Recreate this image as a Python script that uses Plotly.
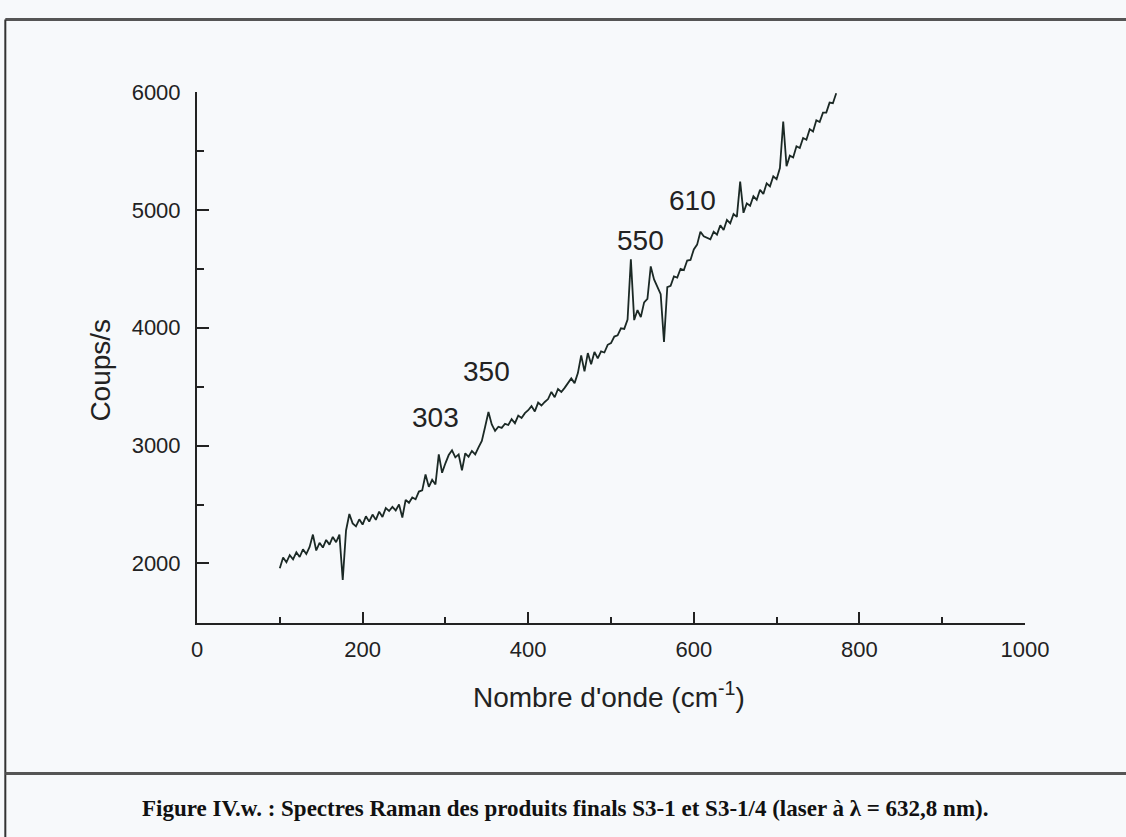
import plotly.graph_objects as go

# Raman spectrum: wavenumber grid (cm-1) and measured counts per second
wavenumber = list(range(100, 776, 4))
counts = [
    1960, 2050, 2010, 2070, 2035, 2095, 2055, 2120, 2080, 2140,   # 100-136
    2245, 2110, 2175, 2135, 2200, 2160, 2225, 2180, 2245, 1860,   # 140-176
    2280, 2420, 2340, 2315, 2375, 2330, 2400, 2355, 2415, 2370,   # 180-216
    2440, 2395, 2470, 2445, 2480, 2450, 2500, 2390, 2540, 2515,   # 220-256
    2560, 2545, 2610, 2620, 2755, 2650, 2710, 2670, 2925, 2770,   # 260-296
    2850, 2920, 2960, 2900, 2925, 2790, 2935, 2905, 2955, 2925,   # 300-336
    2985, 3040, 3160, 3285, 3180, 3125, 3160, 3150, 3185, 3175,   # 340-376
    3225, 3190, 3255, 3235, 3275, 3300, 3335, 3290, 3365, 3340,   # 380-416
    3370, 3395, 3455, 3410, 3480, 3455, 3490, 3525, 3570, 3530,   # 420-456
    3615, 3765, 3630, 3785, 3690, 3795, 3740, 3800, 3790, 3855,   # 460-496
    3870, 3925, 3935, 3995, 3990, 4070, 4580, 4065, 4150, 4090,   # 500-536
    4215, 4245, 4520, 4410, 4340, 4285, 3880, 4345, 4355, 4435,   # 540-576
    4425, 4500, 4490, 4570, 4575, 4665, 4705, 4815, 4775, 4765,   # 580-616
    4750, 4815, 4790, 4870, 4830, 4915, 4885, 4965, 4940, 5240,   # 620-656
    4975, 5055, 5035, 5115, 5085, 5170, 5135, 5225, 5200, 5285,   # 660-696
    5260, 5355, 5750, 5370, 5460, 5445, 5540, 5525, 5610, 5595,   # 700-736
    5685, 5665, 5760, 5745, 5825, 5825, 5910, 5905, 5990,         # 740-772
]

# Peak labels (wavenumber text) and where they sit
peak_labels = ["303", "350", "550", "610"]
peak_label_x = [288, 350, 536, 598]
peak_label_y = [3238, 3627, 4737, 5077]

x_ticks = [0, 200, 400, 600, 800, 1000]
y_ticks = [2000, 3000, 4000, 5000, 6000]

caption = ("Figure IV.w. : Spectres Raman des produits finals S3-1 et S3-1/4 "
           "(laser à λ = 632,8 nm).")

bg = "#f7f9fb"
ink = "#222222"
sans = "Liberation Sans, Arial, sans-serif"

fig = go.Figure()
fig.add_trace(go.Scatter(
    x=wavenumber, y=counts, mode="lines",
    line=dict(color="#1b2925", width=1.8),
    showlegend=False, hoverinfo="skip",
))

for t, x, y in zip(peak_labels, peak_label_x, peak_label_y):
    fig.add_annotation(x=x, y=y, text=t, showarrow=False,
                       font=dict(family=sans, size=28, color=ink),
                       xanchor="center", yanchor="middle")

# axis titles
fig.add_annotation(xref="paper", yref="paper", x=0.497, y=-0.136,
                   text="Nombre d'onde (cm<sup>-1</sup>)", showarrow=False,
                   font=dict(family=sans, size=28, color=ink),
                   xanchor="center", yanchor="middle")
fig.add_annotation(xref="paper", yref="paper", x=-0.1167, y=0.476,
                   text="Coups/s", showarrow=False, textangle=-90,
                   font=dict(family=sans, size=28, color=ink),
                   xanchor="center", yanchor="middle")

# caption
fig.add_annotation(xref="paper", yref="paper", x=0.444, y=-0.349,
                   text="<b>" + caption + "</b>", showarrow=False,
                   font=dict(family="Liberation Serif, Times New Roman, serif",
                             size=23, color="#111111"),
                   xanchor="center", yanchor="middle")

# page frame: top rule, left rule, caption separator
fig.add_shape(type="line", xref="paper", yref="paper",
              x0=-0.2315, x1=1.13, y0=1.1363, y1=1.1363,
              line=dict(color="#555555", width=3))
fig.add_shape(type="line", xref="paper", yref="paper",
              x0=-0.2315, x1=-0.2315, y0=1.1363, y1=-0.45,
              line=dict(color="#333333", width=2))
fig.add_shape(type="line", xref="paper", yref="paper",
              x0=-0.2315, x1=1.13, y0=-0.2834, y1=-0.2834,
              line=dict(color="#555555", width=3))

fig.update_xaxes(
    range=[0, 1000], tickvals=x_ticks, ticktext=[str(v) for v in x_ticks],
    showline=True, linecolor=ink, linewidth=2,
    ticks="inside", ticklen=11, tickwidth=2, tickcolor=ink,
    minor=dict(tickvals=[100, 300, 500, 700, 900], ticks="inside",
               ticklen=6, tickwidth=2, tickcolor=ink),
    showgrid=False, zeroline=False,
    tickfont=dict(family=sans, size=22, color=ink),
    ticklabelstandoff=6,
)
fig.update_yaxes(
    range=[1495, 6000], tickvals=y_ticks, ticktext=[str(v) for v in y_ticks],
    showline=True, linecolor=ink, linewidth=2,
    ticks="inside", ticklen=12, tickwidth=2, tickcolor=ink,
    minor=dict(tickvals=[2500, 3500, 4500, 5500], ticks="inside",
               ticklen=7, tickwidth=2, tickcolor=ink),
    showgrid=False, zeroline=False,
    tickfont=dict(family=sans, size=22, color=ink),
    ticklabelstandoff=10,
)

fig.update_layout(
    width=1126, height=837,
    margin=dict(l=197, r=101, t=92, b=214, pad=0),
    paper_bgcolor=bg, plot_bgcolor=bg,
    showlegend=False,
)

fig.write_html("out.html")
